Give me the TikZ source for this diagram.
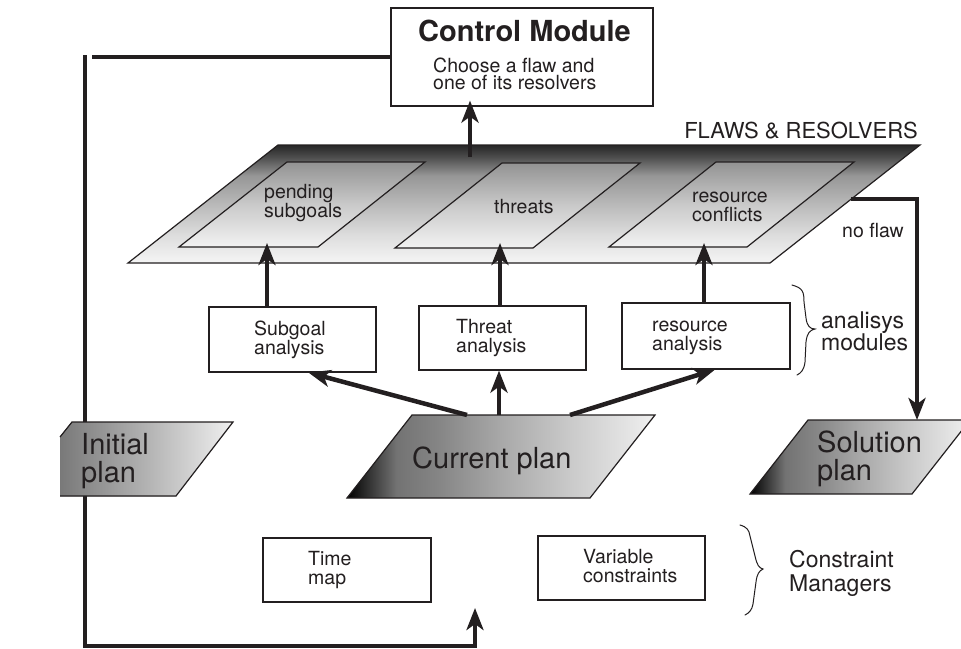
\documentclass[tikz,border=0pt]{standalone}
\usepackage{fontspec}
\setmainfont{TeX Gyre Heros}
\usetikzlibrary{arrows.meta,calc}

\definecolor{ink}{RGB}{35,31,32}

% dark top edge fading quickly into light grey
\pgfdeclareverticalshading{layerfade}{100bp}{%
  color(0bp)=(gray!8); color(25bp)=(gray!8); color(37bp)=(gray!27);
  color(50bp)=(gray!55); color(62bp)=(gray!82); color(70bp)=(black!70);
  color(75bp)=(black!85); color(100bp)=(black!85)}
% black corner fading into light grey to the right
\pgfdeclarehorizontalshading{planfade}{100bp}{%
  color(0bp)=(black); color(25bp)=(black); color(33bp)=(black!55);
  color(40bp)=(gray!95); color(50bp)=(gray!68); color(62bp)=(gray!40);
  color(75bp)=(gray!12); color(100bp)=(gray!12)}

\tikzset{
  box/.style={draw=ink, line width=1.2pt, fill=white, inner sep=0pt},
  outline/.style={draw=ink, line width=1.2pt, line join=miter},
  conn/.style={draw=ink, line width=4.5pt},
  arr/.style={conn, -{Stealth[length=22pt,width=17pt,inset=6pt]}},
  % text nodes are placed by the baseline of their last line
  txt/.style={inner sep=0pt, anchor=base west, align=left, text=ink,
              font=\fontsize{19.5}{19}\selectfont},
  bigtxt/.style={txt, font=\fontsize{29}{28}\selectfont},
  midtxt/.style={txt, font=\fontsize{23}{22.5}\selectfont},
  brace/.style={draw=ink, line width=1pt, line cap=round},
  planshade/.style={shading=planfade},
  layershade/.style={shading=layerfade},
  slotshade/.style={top color=gray!85, bottom color=gray!10, middle color=gray!42},
}

\begin{document}
\begin{tikzpicture}[x=1pt, y=-1pt]
  \useasboundingbox (0,0) rectangle (961,648);
  \fill[white] (0,0) rectangle (961,648);
  \clip (0,0) rectangle (961,648);

  % control module
  \node[box, minimum width=262pt, minimum height=98pt] (ctrl) at (522,57) {};
  \node[bigtxt, font=\bfseries\fontsize{29}{28}\selectfont] (ctrlTitle) at (418,41) {Control Module};
  \node[txt, font=\fontsize{19.5}{17.7}\selectfont] (ctrlText) at (433,89.7) {Choose a flaw and\\one of its resolvers};

  % line leaving the control module to the left
  \coordinate (ctrlLineEnd) at (92,57);
  \draw[conn] (ctrl.west |- ctrlLineEnd) -- (ctrlLineEnd);

  % feedback loop on the left, running behind the initial plan
  \coordinate (loopTop) at (85,55);
  \coordinate (loopBot) at (85,646);
  \coordinate (loopEnd) at (475,608);
  \draw[arr] (loopTop) -- (loopBot) -- (loopBot -| loopEnd) -- (loopEnd);

  % flaws & resolvers layer
  \path[layershade, outline] (278,145) -- (920,145) -- (770,263) -- (128,263) -- cycle;
  \path[slotshade, outline] (287,162) -- (425,162) -- (318,247) -- (179,247) -- cycle;
  \path[slotshade, outline] (502,163) -- (640,163) -- (533,248) -- (395,248) -- cycle;
  \path[slotshade, outline] (716,162) -- (854,162) -- (747,247) -- (609,247) -- cycle;
  \node[txt] (pendTxt) at (264,217) {pending\\subgoals};
  \node[txt] (thrTxt) at (494,213) {threats};
  \node[txt] (resTxt) at (692,221) {resource\\conflicts};
  \node[txt, anchor=base east, font=\fontsize{22}{22}\selectfont] (flawsLabel) at (918,138) {FLAWS \& RESOLVERS};

  % chosen flaw goes up to the control module
  \coordinate (flawsOut) at (470,157);
  \draw[arr, shorten >=-6pt] (flawsOut) -- (flawsOut |- ctrl.south);

  % analysis modules
  \node[box, minimum width=167pt, minimum height=65pt] (subA) at (292.5,339.5) {};
  \node[box, minimum width=167pt, minimum height=64pt] (thrA) at (502.5,338) {};
  \node[box, minimum width=168pt, minimum height=66pt] (resA) at (706,336) {};
  \node[txt] (subATxt) at (254,354) {Subgoal\\analysis};
  \node[txt] (thrATxt) at (456,352) {Threat\\analysis};
  \node[txt] (resATxt) at (652,350) {resource\\analysis};

  \coordinate (pendIn) at (267,243);
  \coordinate (thrIn) at (500,243);
  \coordinate (resIn) at (704,243);
  \draw[arr] (pendIn |- subA.north) -- (pendIn);
  \draw[arr] (thrIn |- thrA.north) -- (thrIn);
  \draw[arr] (resIn |- resA.north) -- (resIn);

  % analysis brace
  \draw[brace] (792,285) .. controls (803,288) and (804,292) .. (804,302)
    -- (806,318) .. controls (807,326) and (810,329) .. (815,329)
    .. controls (810,330) and (807,333) .. (806,342)
    -- (805,362) .. controls (804,370) and (801,373) .. (797,375);
  \node[midtxt] (anaLabel) at (821,350.5) {analisys\\modules};

  % current plan
  \path[planshade, outline] (412,415) -- (655,415) -- (590,498) -- (347,498) -- cycle;
  \node[bigtxt] (curTxt) at (412,468) {Current plan};
  \coordinate (cpL) at (467,415);
  \coordinate (cpM) at (499,415);
  \coordinate (cpR) at (570,415);
  \draw[arr] (cpL) -- ([xshift=16pt]subA.south);
  \draw[arr] (cpM) -- (cpM |- thrA.south);
  \draw[arr] (cpR) -- ([xshift=9pt]resA.south);

  % initial plan (cut at the left)
  \fill[left color=gray!95!black, right color=gray!12, middle color=gray!60]
    (60,437) -- (72,422) -- (233,422) -- (176,496) -- (60,496) -- cycle;
  \draw[outline] (60,437) -- (72,422) -- (233,422) -- (176,496) -- (60,496);
  \node[bigtxt] (iniTxt) at (81,482) {Initial\\plan};

  % solution plan
  \path[planshade, outline] (808,420) -- (970,420) -- (912,494) -- (750,494) -- cycle;
  \node[bigtxt] (solTxt) at (817,480) {Solution\\plan};

  % no flaw left: go to the solution plan
  \coordinate (flawsR) at (851,199);
  \coordinate (solTop) at (917,420);
  \draw[arr] (flawsR) -- (flawsR -| solTop) -- (solTop);
  \node[txt] (noFlaw) at (842,237) {no flaw};

  % constraint managers
  \node[box, minimum width=168pt, minimum height=64pt] (timeMap) at (347,570) {};
  \node[box, minimum width=167pt, minimum height=64pt] (varCons) at (621.5,568) {};
  \node[txt] (timeTxt) at (308,584) {Time\\map};
  \node[txt] (varTxt) at (583,582) {Variable\\constraints};

  \draw[brace] (740,525) .. controls (747,527) and (749,530) .. (750,536)
    -- (755,556) .. controls (757,565) and (759,568) .. (763,569)
    .. controls (759,571) and (757,574) .. (756,582)
    -- (753,604) .. controls (752,610) and (749,613) .. (745,615);
  \node[midtxt, font=\fontsize{23}{24}\selectfont] (cmLabel) at (789,591) {Constraint\\Managers};
\end{tikzpicture}
\end{document}
